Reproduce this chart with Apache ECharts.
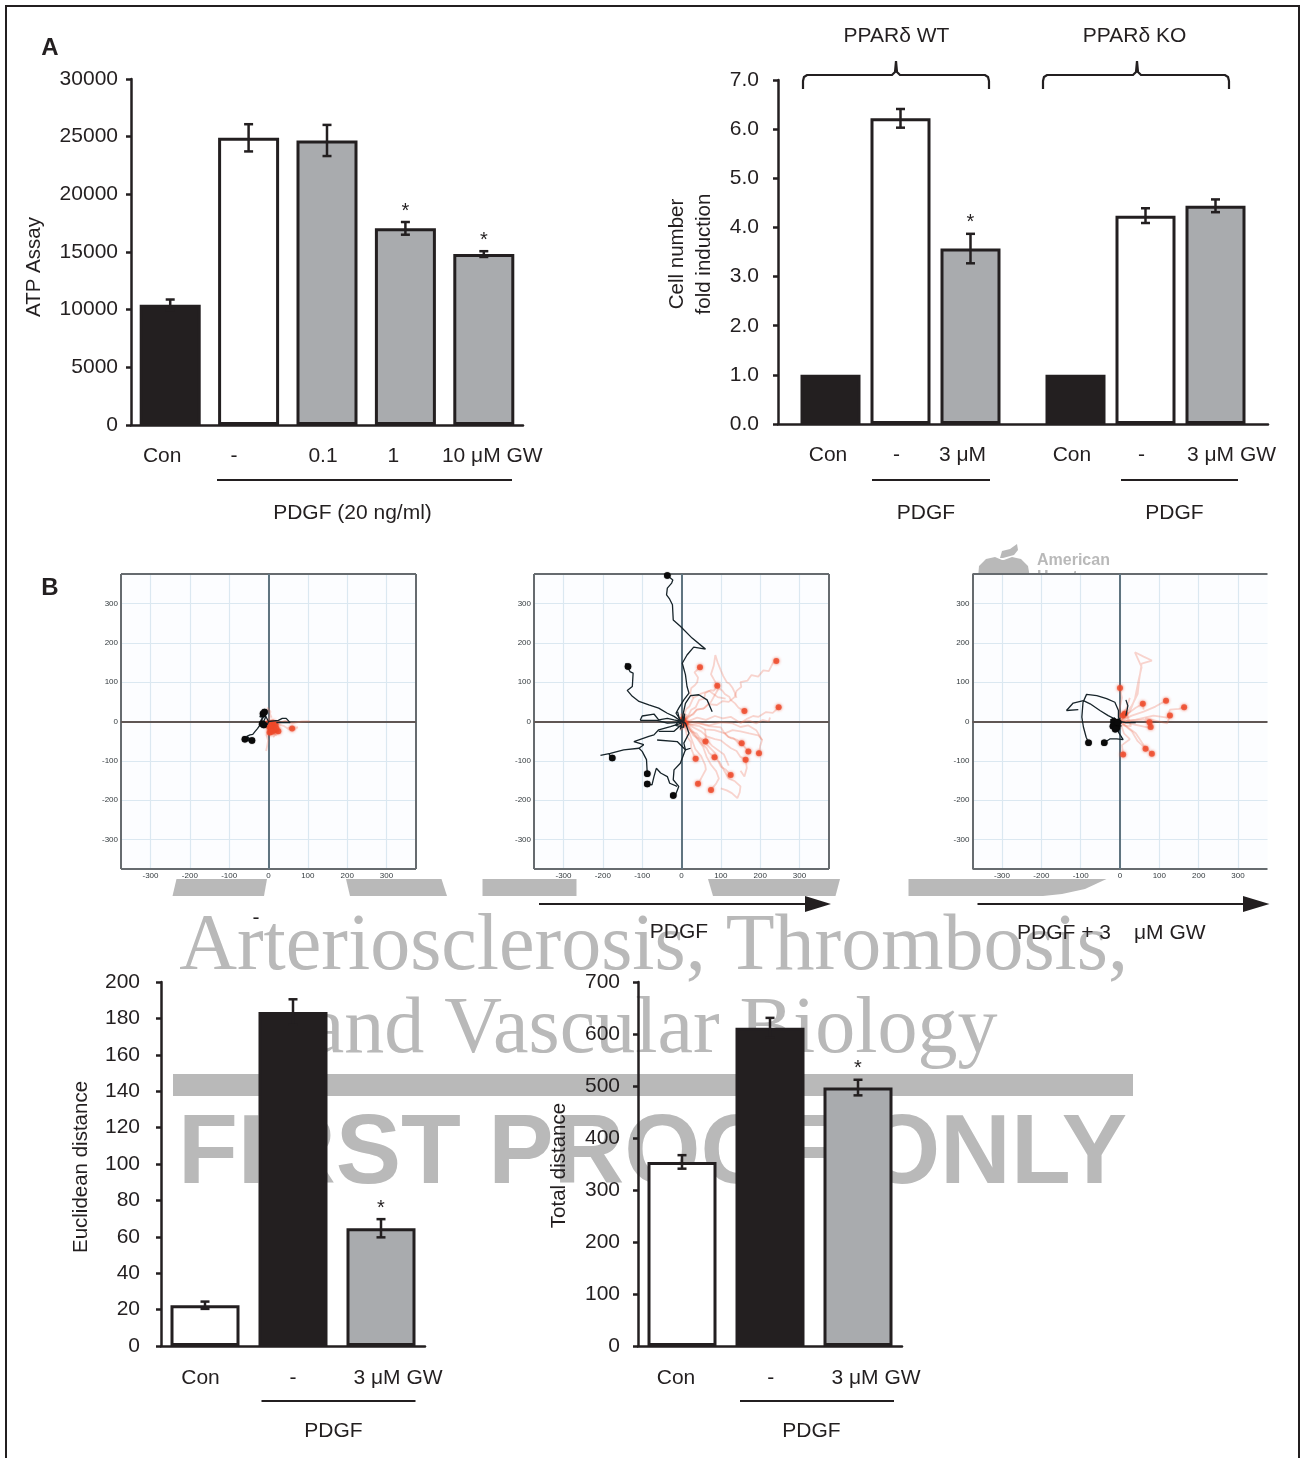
<!DOCTYPE html>
<html>
<head>
<meta charset="utf-8">
<style>html,body{margin:0;padding:0;background:#fff}#c{width:1300px;height:1458px}</style>
<script src="https://cdn.jsdelivr.net/npm/echarts@6/dist/echarts.min.js"></script>
</head>
<body>
<div id="c"></div>
<script>
// ---------- Bar chart data ----------
const atpCategories = ['Con', '-', '0.1', '1', '10 μM GW'];
const atpValues = [10430, 24900, 24670, 17050, 14820];
const atpErrors = [450, 1180, 1350, 550, 250];
const atpStars = [0, 0, 0, 1, 1];
const atpFills = ['#231f20', '#ffffff', '#a9abae', '#a9abae', '#a9abae'];

const cellCategories = ['', 'Con', '', '-', '', '3 μM', '', '', 'Con', '', '-', '', '3 μM GW', ''];
const cellValues = [null, 1.0, null, 6.22, null, 3.57, null, null, 1.0, null, 4.24, null, 4.44, null];
const cellErrors = [null, 0, null, 0.19, null, 0.3, null, null, 0, null, 0.15, null, 0.13, null];
const cellStars = [0, 0, 0, 0, 0, 1, 0, 0, 0, 0, 0, 0, 0, 0];
const cellFills = [null, '#231f20', null, '#ffffff', null, '#a9abae', null, null, '#231f20', null, '#ffffff', null, '#a9abae', null];

const euclidCategories = ['Con', '-', '3 μM GW'];
const euclidValues = [22.4, 183.5, 64.7];
const euclidErrors = [2, 7, 5];
const euclidStars = [0, 0, 1];
const euclidFills = ['#ffffff', '#231f20', '#a9abae'];

const totalCategories = ['Con', '-', '3 μM GW'];
const totalValues = [354, 612, 497];
const totalErrors = [13, 19, 15];
const totalStars = [0, 0, 1];
const totalFills = ['#ffffff', '#231f20', '#a9abae'];

// ---------- Cell-track data (micrometres) ----------
const plotTicks = [-300, -200, -100, 0, 100, 200, 300];

const conRedTracks = [
  [[0,0],[10,-10],[5,-25],[15,-30],[20,-15],[8,-5],[14,-20],[2,-15],[12,-8],[22,-26],[6,-30],[0,-12],[16,-12],[4,-22],[18,-34],[9,-18],[-3,-6],[14,4],[6,-12]],
  [[0,0],[14,2],[30,-3],[42,2],[60,-5],[72,-2],[85,0],[105,1]],
  [[10,-5],[28,-8],[40,-12],[52,-20],[65,-18],[75,-15],[50,-16],[70,-20],[58,-14]],
  [[0,-10],[-5,-35],[-1,-48],[-3,-60],[-6,-75]],
  [[0,0],[15,-15],[25,-28],[18,-36],[28,-20],[12,-40]],
  [[0,0],[5,25],[-3,35],[8,10]]
];
const conRedEnds = [[8,-10],[15,-22],[5,-18],[18,-8],[-2,-5],[25,-25],[60,-18],[10,-3],[3,-28],[12,-15],[1,-12],[20,-18],[9,-26]];
const conBlackTracks = [
  [[-64,-42],[-42,-48],[-55,-38],[-47,-34],[-40,-33],[-34,-25],[-28,-18],[-21,-8],[-4,-4]],
  [[-15,20],[-8,30],[-20,18],[-10,12],[-5,22],[-15,8],[-22,-5],[-10,-15],[-18,-5],[-3,-8],[0,0],[-14,26],[-22,12],[-6,14],[-18,-12],[-8,-2],[-24,-8],[-12,18]],
  [[0,0],[25,3],[35,8],[45,8],[55,-3],[40,-3],[20,-3]],
  [[-60,-45],[-50,-48],[-62,-42],[-45,-44],[-52,-50]]
];
const conBlackEnds = [[-42,-48],[-60,-45],[-14,20],[-16,-6],[-10,24],[-12,-9]];

const pdgfRedTracks = [
  [[0,0],[6,14],[12,32],[20,38],[30,60],[22,72],[25,85],[34,92],[40,100],[42,112],[33,125],[47,138]],
  [[0,0],[14,8],[25,30],[36,36],[45,55],[58,58],[60,72],[75,80],[82,78],[91,91]],
  [[0,0],[14,12],[30,18],[38,30],[55,32],[68,44],[90,42],[105,52],[120,50],[135,62],[140,78],[152,88],[150,100],[168,104],[178,118],[195,114],[208,130],[222,128],[232,148],[241,154]],
  [[0,0],[22,3],[40,10],[62,4],[85,14],[105,8],[125,12],[150,-4],[165,6],[182,14],[196,12],[215,24],[232,22],[247,36]],
  [[0,0],[18,10],[40,30],[58,34],[75,50],[84,66],[95,85],[104,78],[110,70],[122,62],[125,55],[136,46],[145,35],[160,27]],
  [[0,0],[16,-4],[30,-10],[46,-12],[60,-20],[84,-22],[110,-30],[118,-38],[125,-42],[140,-46],[153,-55]],
  [[0,0],[24,-8],[45,-5],[70,-12],[100,-15],[108,-28],[120,-40],[132,-42],[145,-55],[158,-62],[170,-76]],
  [[0,0],[36,-2],[70,-10],[100,-2],[130,-5],[150,-14],[170,-10],[190,-22],[205,-47],[200,-62],[197,-81]],
  [[0,0],[28,-14],[50,-25],[64,-38],[85,-45],[100,-48],[115,-60],[126,-68],[140,-75],[150,-90],[163,-97]],
  [[0,0],[12,-8],[25,-25],[38,-30],[45,-40],[61,-51]],
  [[0,0],[18,-14],[30,-35],[42,-44],[55,-60],[64,-68],[70,-80],[84,-91]],
  [[0,0],[10,-18],[15,-40],[24,-52],[25,-70],[30,-82],[36,-95]],
  [[0,0],[22,-16],[40,-40],[62,-56],[85,-80],[92,-98],[100,-115],[112,-122],[125,-136]],
  [[0,0],[20,-30],[35,-70],[50,-88],[60,-110],[62,-122],[55,-135],[48,-148],[42,-158]],
  [[0,0],[28,-28],[55,-65],[64,-90],[75,-110],[88,-126],[95,-145],[88,-158],[75,-174]],
  [[91,91],[84,104],[75,120],[82,142],[86,169],[92,150],[100,130],[106,116],[115,100],[122,96],[130,85],[136,72],[140,60]],
  [[95,-100],[108,-124],[120,-145],[136,-152],[150,-165],[148,-180],[142,-195],[128,-182],[115,-175],[100,-170]],
  [[110,-30],[130,-22],[150,-25],[172,-30],[195,-35],[205,-47]],
  [[163,-97],[166,-118],[160,-140],[150,-125]],
  [[150,-3],[172,2],[190,-5],[206,4],[222,0],[225,10]],
  [[30,60],[48,70],[70,78],[92,62],[112,58]],
  [[60,-20],[62,-44],[78,-62],[108,-84],[120,-112]],
  [[-8,12],[4,2],[-6,-8],[8,-14],[-4,-22],[14,18],[-10,-2],[10,4],[-2,20]]
];
const pdgfRedEnds = [[47,138],[91,91],[241,154],[247,36],[160,27],[153,-55],[170,-76],[197,-81],[163,-97],[61,-51],[84,-91],[36,-95],[125,-136],[42,-158],[75,-174],[5,0],[10,-5],[3,5]];
const pdgfBlackTracks = [
  [[-36,371],[-22,360],[-25,352],[-36,339],[-38,322],[-30,311],[-23,297],[-21,258],[-3,242],[27,212],[61,184],[31,189],[14,169],[2,148],[10,119],[14,89],[19,72],[6,55],[-7,34],[-14,21],[0,0]],
  [[-136,140],[-142,148],[-131,127],[-123,123],[-125,89],[-138,79],[-125,64],[-108,51],[-83,42],[-58,34],[-36,21],[-19,13],[0,0]],
  [[0,0],[10,46],[23,66],[44,68],[65,55],[78,25]],
  [[-105,3],[-100,14],[-70,19],[-58,4],[-36,8],[-19,4],[0,0]],
  [[-105,3],[-62,3],[-36,-4],[0,-2]],
  [[-206,-86],[-181,-81],[-147,-72],[-108,-68],[-96,-59],[-121,-51],[-83,-38],[-70,-34],[-58,-21],[-28,-13],[0,-4]],
  [[-176,-93],[-184,-84],[-181,-81]],
  [[-87,-133],[-89,-97],[-100,-76],[-108,-68]],
  [[-87,-159],[-75,-161],[-70,-140],[-64,-119],[-53,-131],[-36,-140],[-30,-157],[-11,-165]],
  [[-21,-188],[-15,-186],[-7,-165],[-21,-148],[-19,-123],[-3,-106],[10,-72],[6,-55],[19,-30],[10,-4],[0,0]],
  [[-62,-47],[-11,-51],[10,-72],[23,-68]],
  [[-58,-25],[-19,-25],[0,-8]],
  [[-10,25],[-5,5],[-15,-10],[5,-15],[8,20],[-3,-20]]
];
const pdgfBlackEnds = [[-36,371],[-136,140],[-176,-93],[-87,-133],[-87,-159],[-21,-188]];

const gwRedTracks = [
  [[0,0],[25,25],[38,58],[47,104],[55,138],[38,176],[60,165],[81,155],[55,147],[49,108],[45,70],[30,40],[10,15]],
  [[0,0],[30,15],[60,25],[90,38],[117,53]],
  [[0,0],[40,5],[85,15],[120,10],[127,30],[150,32],[163,36]],
  [[0,0],[60,5],[75,-2],[78,-15],[65,8],[120,-5],[127,15]],
  [[0,0],[20,20],[40,35],[58,45],[60,30]],
  [[0,0],[-2,30],[5,60],[0,85]],
  [[0,0],[10,-30],[25,-45],[5,-60],[8,-84]],
  [[0,0],[30,-25],[45,-50],[65,-69]],
  [[0,0],[40,-30],[60,-60],[81,-82]],
  [[0,0],[10,15],[15,30],[25,60]],
  [[0,0],[70,-15],[75,-20]],
  [[-4,10],[12,24],[22,6],[6,-10],[28,-12],[14,30],[2,16]]
];
const gwRedEnds = [[117,53],[163,36],[127,15],[75,-2],[58,45],[0,85],[8,-84],[65,-69],[81,-82],[8,15],[12,20],[78,-14]];
const gwBlackTracks = [
  [[-80,-54],[-86,-40],[-93,-14],[-97,11],[-94,49],[-85,69],[-59,66],[-34,58],[-13,49],[-4,28],[-4,11],[0,0]],
  [[-136,28],[-119,47],[-93,53],[-76,45],[-51,28],[-30,15],[0,0]],
  [[-136,28],[-106,30]],
  [[-40,-54],[-25,-44],[-8,-44],[8,-46],[-4,-27],[0,0]],
  [[-25,5],[5,-3],[-20,-10],[0,8],[-18,-15],[3,-12],[-15,10],[-3,-25],[-20,-3],[2,3],[-10,-20],[-22,-8],[0,-18],[-24,-3],[-6,6],[-14,-24],[-2,-8],[-20,8],[-8,-14]],
  [[0,0],[15,-3],[40,-3]],
  [[15,15],[20,40],[15,55]]
];
const gwBlackEnds = [[-80,-54],[-40,-54],[-12,-8],[-8,-15],[-16,0],[-18,-12],[-6,-2],[-12,-20]];

// ---------- Text ----------
const INK = '#231f20';
const SANS = '"Liberation Sans", Arial, sans-serif';
const SERIF = '"Liberation Serif", "Times New Roman", serif';
const WM = '#b9b9b9';

const grid = [], xAxis = [], yAxis = [], series = [];

function addBars(c) {
  const i = grid.length;
  grid.push({ left: c.left, top: c.top, width: c.width, height: c.height });
  const rich = {};
  c.categories.forEach((v, k) => {
    const s = c.shift[k] || 0;
    rich['o' + k] = {
      fontFamily: SANS, fontSize: 21, color: INK,
      padding: s < 0 ? [0, -2 * s, 0, 0] : [0, 0, 0, 2 * s]
    };
  });
  xAxis.push({
    gridIndex: i, type: 'category', data: c.categories,
    axisLine: { lineStyle: { color: INK, width: 2.5 } },
    axisTick: { show: false },
    axisLabel: {
      interval: 0, margin: c.labelMargin, hideOverlap: false, rich,
      formatter: (v, k) => (v ? '{o' + k + '|' + v + '}' : '')
    }
  });
  yAxis.push({
    gridIndex: i, type: 'value', min: 0, max: c.max, interval: c.interval,
    name: c.title, nameLocation: 'middle', nameGap: c.titleGap,
    nameTextStyle: { fontFamily: SANS, fontSize: 20.5, color: INK, lineHeight: 27, padding: c.titlePad || 0 },
    splitLine: { show: false },
    axisLine: { show: true, lineStyle: { color: INK, width: 2.5 } },
    axisTick: { show: true, length: 5, lineStyle: { color: INK, width: 2.5 } },
    axisLabel: {
      margin: c.tickMargin, fontFamily: SANS, fontSize: 21, color: INK,
      formatter: c.format || (v => String(v))
    }
  });
  series.push({
    type: 'bar', xAxisIndex: i, yAxisIndex: i, barWidth: c.barWidth, silent: true, z: 3,
    data: c.values.map((v, k) => v == null ? null : {
      value: v,
      itemStyle: { color: c.fills[k], borderColor: INK, borderWidth: 3 }
    })
  });
  series.push({
    type: 'custom', xAxisIndex: i, yAxisIndex: i, silent: true, z: 4, clip: false,
    data: c.values.map((v, k) => v == null || !c.errors[k] ? null : [k, v - c.errors[k], v + c.errors[k], c.stars[k]]).filter(Boolean),
    renderItem: (p, api) => {
      const lo = api.coord([api.value(0), api.value(1)]);
      const hi = api.coord([api.value(0), api.value(2)]);
      const x = lo[0], cap = 4.5;
      const ls = { stroke: INK, lineWidth: 2.5 };
      const kids = [
        { type: 'line', shape: { x1: x, y1: lo[1], x2: x, y2: hi[1] }, style: ls },
        { type: 'line', shape: { x1: x - cap, y1: lo[1], x2: x + cap, y2: lo[1] }, style: ls },
        { type: 'line', shape: { x1: x - cap, y1: hi[1], x2: x + cap, y2: hi[1] }, style: ls }
      ];
      if (api.value(3)) {
        kids.push({ type: 'text', style: { text: '*', x, y: hi[1] - 1, font: '20px ' + SANS, fill: INK, align: 'center', verticalAlign: 'bottom' } });
      }
      return { type: 'group', children: kids };
    }
  });
}

addBars({ left: 131, top: 79, width: 392, height: 346, categories: atpCategories, values: atpValues, errors: atpErrors, stars: atpStars, fills: atpFills,
  max: 30000, interval: 5000, title: 'ATP Assay', titleGap: 83, titlePad: [0, 30, 0, 0], tickMargin: 13, labelMargin: 21, barWidth: 61,
  shift: [-8, -14.5, -4, -12, 8.5] });
addBars({ left: 778, top: 80, width: 490, height: 344, categories: cellCategories, values: cellValues, errors: cellErrors, stars: cellStars, fills: cellFills,
  max: 7, interval: 1, title: 'Cell number\nfold induction', titleGap: 60, titlePad: [0, 4, 0, 0], tickMargin: 19, labelMargin: 21, barWidth: 60,
  format: v => v.toFixed(1), shift: [0, -2.5, 0, -4, 0, -8, 0, 0, -3.6, 0, -4, 0, 16, 0] });
addBars({ left: 161, top: 982, width: 264, height: 364, categories: euclidCategories, values: euclidValues, errors: euclidErrors, stars: euclidStars, fills: euclidFills,
  max: 200, interval: 20, title: 'Euclidean distance', titleGap: 66, titlePad: [0, 6, 0, 0], tickMargin: 21, labelMargin: 22, barWidth: 69,
  shift: [-4.5, 0, 17] });
addBars({ left: 638, top: 982, width: 264, height: 364, categories: totalCategories, values: totalValues, errors: totalErrors, stars: totalStars, fills: totalFills,
  max: 700, interval: 100, title: 'Total distance', titleGap: 65, titlePad: [0, 3, 0, 0], tickMargin: 18, labelMargin: 22, barWidth: 69,
  shift: [-6, 0.7, 18] });

function addPlot(c) {
  const i = grid.length;
  grid.push({ left: c.left, top: c.top, width: 295, height: 295, show: true, backgroundColor: '#fcfdff', borderWidth: 0 });
  const axisCommon = {
    gridIndex: i, type: 'value', min: -375, max: 375,
    splitLine: { show: true, lineStyle: { color: '#dbe8f1', width: 1.2 } },
    axisLine: { show: false, onZero: false },
    axisTick: { show: false, customValues: plotTicks },
    axisLabel: { customValues: plotTicks, margin: 3, fontFamily: SANS, fontSize: 8, color: '#333a3e', showMinLabel: true, showMaxLabel: true }
  };
  xAxis.push(Object.assign({ position: 'bottom' }, axisCommon));
  yAxis.push(Object.assign({ position: 'left' }, axisCommon));
  const track = (data, color, width, opacity, z, blur) => ({
    type: 'line', xAxisIndex: i, yAxisIndex: i, data, silent: true, showSymbol: false, symbol: 'none', z,
    lineStyle: { color, width, opacity, shadowBlur: blur, shadowColor: color }
  });
  const ends = (data, color, size, opacity, z, blur) => ({
    type: 'scatter', xAxisIndex: i, yAxisIndex: i, data, silent: true, symbolSize: size, z,
    itemStyle: { color, opacity, shadowBlur: blur, shadowColor: color }
  });
  const frameData = [{ xAxis: -375 }, { yAxis: 375 }, { yAxis: -375 }];
  if (c.rightFrame) frameData.push({ xAxis: 375 });
  series.push({
    type: 'line', xAxisIndex: i, yAxisIndex: i, data: [], silent: true, z: 4,
    markLine: {
      silent: true, symbol: 'none', animation: false, label: { show: false },
      lineStyle: { color: '#666b6f', width: 2, type: 'solid' },
      data: frameData.concat([
        { xAxis: 0, lineStyle: { color: '#5f7480', width: 2, type: 'solid' } },
        { yAxis: 0, lineStyle: { color: '#5f5654', width: 2, type: 'solid' } }
      ])
    }
  });
  c.red.forEach(t => series.push(track(t, '#f0745a', 1.8, 0.3, 5, 0)));
  series.push(ends(c.redEnds, '#ee4a2a', 6, 0.8, 6, 3));
  c.black.forEach(t => series.push(track(t, '#17242a', 1.3, 1, 7, 0)));
  series.push(ends(c.blackEnds, '#0a0a0a', 6.5, 1, 8, 1));
}

addPlot({ left: 121, top: 574, rightFrame: true, red: conRedTracks, redEnds: conRedEnds, black: conBlackTracks, blackEnds: conBlackEnds });
addPlot({ left: 534, top: 574, rightFrame: true, red: pdgfRedTracks, redEnds: pdgfRedEnds, black: pdgfBlackTracks, blackEnds: pdgfBlackEnds });
addPlot({ left: 972.5, top: 574, rightFrame: false, red: gwRedTracks, redEnds: gwRedEnds, black: gwBlackTracks, blackEnds: gwBlackEnds });

// ---------- Annotations ----------
const txt = (text, x, y, opt, z) => ({
  type: 'text', z: z == null ? 20 : z, silent: true,
  style: Object.assign({ text, x, y, font: '21px ' + SANS, fill: INK, align: 'center', verticalAlign: 'middle' }, opt || {})
});
const rule = (x1, x2, y) => ({
  type: 'line', z: 20, silent: true, shape: { x1, y1: y, x2, y2: y }, style: { stroke: INK, lineWidth: 2 }
});
const poly = (points, fill, z) => ({ type: 'polygon', z, silent: true, shape: { points }, style: { fill } });
const brace = (x1, xm, x2) => ({
  type: 'polyline', z: 20, silent: true,
  shape: { points: [[x1, 89], [x1, 81], [x1 + 1, 77], [x1 + 4, 75], [xm - 4, 75], [xm - 1, 72], [xm, 61], [xm + 1, 72], [xm + 4, 75], [x2 - 4, 75], [x2 - 1, 77], [x2, 81], [x2, 89]] },
  style: { stroke: INK, lineWidth: 2.2, fill: null }
});

const graphicEls = [
  // page frame
  { type: 'polyline', z: 30, silent: true, shape: { points: [[6, 1458], [6, 6], [1299, 6], [1299, 1458]] }, style: { stroke: INK, lineWidth: 2, fill: null } },

  // proof watermark
  poly([[176.5, 879], [267, 879], [264, 896], [172.5, 896]], WM, -5),
  poly([[346, 879], [441.5, 879], [447, 896], [350, 896]], WM, -5),
  poly([[482.5, 879], [576.5, 879], [576.5, 896], [482.5, 896]], WM, -5),
  poly([[708, 879], [840, 879], [835.5, 896], [713, 896]], WM, -5),
  poly([[908.5, 879], [1106.5, 879], [1085, 889], [1062, 894], [1043, 896], [908.5, 896]], WM, -5),
  { type: 'rect', z: -5, silent: true, shape: { x: 173, y: 1074, width: 960, height: 22 }, style: { fill: WM } },
  txt('Arteriosclerosis, Thrombosis,', 653.5, 948, { font: '80px ' + SERIF, fill: WM }, -5),
  txt('and Vascular Biology', 653, 1031, { font: '80px ' + SERIF, fill: WM }, -5),
  txt('FIRST PROOF ONLY', 652.5, 1156, { font: 'bold 98px ' + SANS, fill: WM }, -5),

  // society logo behind panel 3
  poly([[978, 578], [979, 566], [986, 559], [995, 557], [1002, 560], [1004, 560], [1012, 557], [1021, 559], [1028, 566], [1030, 578]], WM, -5),
  poly([[1017, 544], [1018, 550], [1014, 555], [1003, 558], [1000, 558], [1002, 551], [1010, 549]], WM, -5),
  txt('American', 1037, 561, { font: 'bold 16px ' + SANS, fill: WM, align: 'left' }, -5),
  txt('Heart', 1037, 578, { font: 'bold 16px ' + SANS, fill: WM, align: 'left' }, -5),

  // panel letters
  txt('A', 50, 48, { font: 'bold 24px ' + SANS }),
  txt('B', 50, 588, { font: 'bold 24px ' + SANS }),

  // top row annotations
  rule(217, 512, 480),
  txt('PDGF (20 ng/ml)', 352.5, 513),
  txt('PPARδ WT', 896.5, 36),
  txt('PPARδ KO', 1134.5, 36),
  brace(803, 896, 989),
  brace(1043, 1137, 1229),
  rule(872, 990, 480),
  rule(1121, 1238, 480),
  txt('PDGF', 926, 513),
  txt('PDGF', 1174.5, 513),

  // track captions
  txt('-', 256, 918),
  rule(539, 810, 904),
  { type: 'polygon', z: 20, silent: true, shape: { points: [[805, 896], [831, 904], [805, 912]] }, style: { fill: INK } },
  txt('PDGF', 679, 932),
  rule(977.5, 1248, 904),
  { type: 'polygon', z: 20, silent: true, shape: { points: [[1243, 896], [1269.5, 904], [1243, 912]] }, style: { fill: INK } },
  txt('PDGF + 3', 1017, 933, { align: 'left' }),
  txt('μM GW', 1134, 933, { align: 'left' }),

  // bottom row annotations
  rule(261.5, 415.5, 1401),
  txt('PDGF', 333.5, 1431),
  rule(740, 894, 1401),
  txt('PDGF', 811.5, 1431)
];

const chart = echarts.init(document.getElementById('c'), null, { renderer: 'canvas', width: 1300, height: 1458 });
chart.setOption({
  animation: false,
  backgroundColor: '#ffffff',
  grid, xAxis, yAxis, series,
  graphic: { elements: graphicEls }
});
</script>
</body>
</html>
